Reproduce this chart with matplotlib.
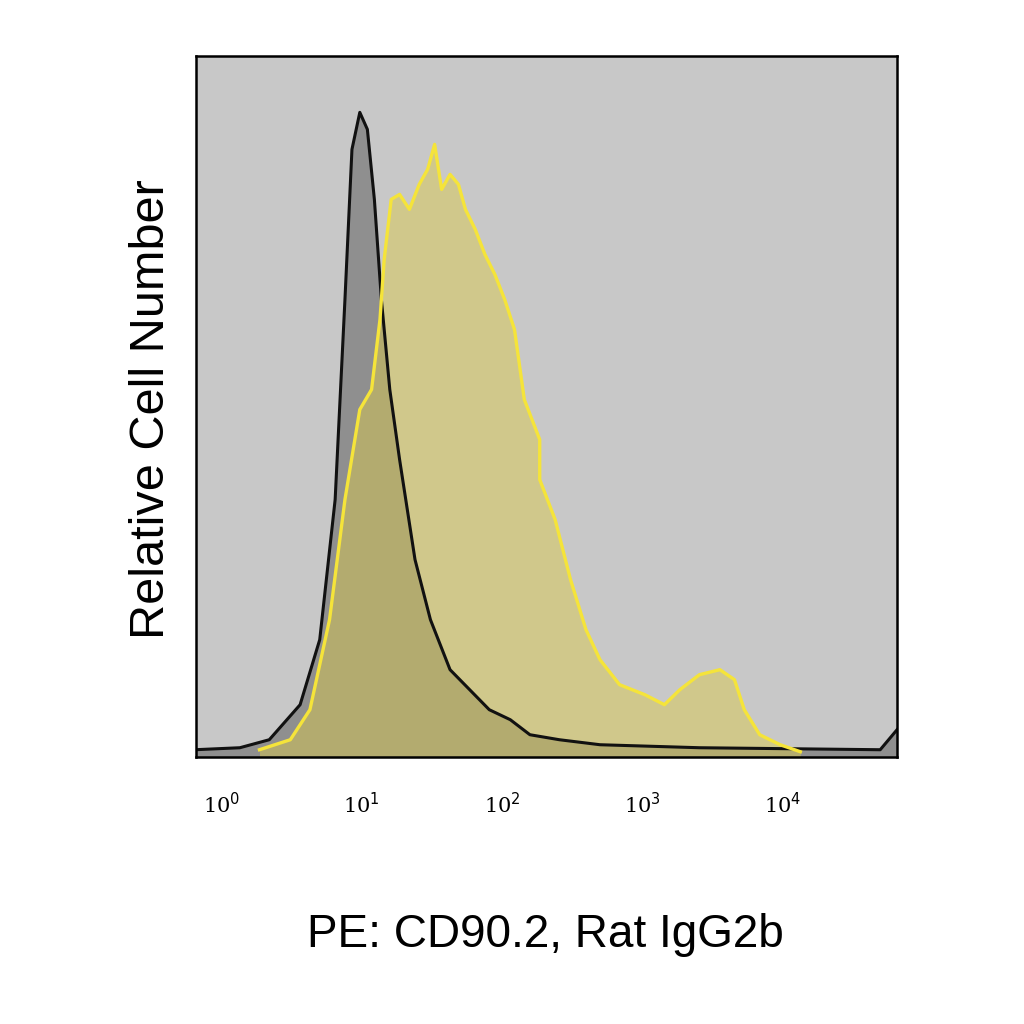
import numpy as np
import matplotlib
matplotlib.use("Agg")
import matplotlib.pyplot as plt

# log10(fluorescence) and relative counts
iso_logx = [-0.19, 0.13, 0.34, 0.56, 0.70, 0.81, 0.88, 0.93, 0.986, 1.04, 1.09, 1.14,
            1.2, 1.27, 1.38, 1.49, 1.63, 1.77, 1.91, 2.06, 2.2, 2.41, 2.7, 3.41, 4.7, 4.82]
iso_y = [7, 9, 17, 52, 117, 257, 457, 607, 644, 627, 557, 457, 367, 297, 197, 137,
         87, 67, 47, 37, 22, 17, 12, 9, 7, 27]

cd90_logx = [0.27, 0.49, 0.63, 0.77, 0.88, 0.986, 1.07, 1.13, 1.16, 1.21, 1.27, 1.34,
             1.41, 1.47, 1.52, 1.57, 1.63, 1.69, 1.74, 1.81, 1.879, 1.95, 2.02, 2.09,
             2.16, 2.27, 2.27, 2.38, 2.49, 2.6, 2.7, 2.84, 3.02, 3.16, 3.27, 3.41,
             3.556, 3.66, 3.73, 3.84, 3.986, 4.13]
cd90_y = [7, 17, 47, 137, 257, 347, 367, 437, 497, 557, 562, 547, 572, 587, 612, 567,
          582, 572, 547, 527, 502, 482, 457, 427, 357, 317, 277, 237, 177, 127, 97, 72,
          62, 52, 67, 82, 87, 77, 47, 22, 12, 5]

fig = plt.figure(figsize=(10.24, 10.24), dpi=100)
ax = fig.add_axes([0.191, 0.261, 0.685, 0.684])
ax.set_facecolor("#c8c8c8")

ix = 10 ** np.array(iso_logx)
cx = 10 ** np.array(cd90_logx)
ax.fill_between(ix, iso_y, 0, color="#6a6a6a", alpha=0.6, lw=0)
ax.fill_between(cx, cd90_y, 0, color="#d8c850", alpha=0.5, lw=0)
ax.plot(ix, iso_y, color="#111111", lw=2.2)
ax.plot(cx, cd90_y, color="#f5e43a", lw=2.4)

ax.set_xscale("log")
ax.set_xlim(10 ** -0.186, 10 ** 4.82)
ax.set_ylim(0, 700)
ax.set_xticks([])
ax.set_yticks([])
ax.minorticks_off()
for s in ax.spines.values():
    s.set_linewidth(1.8)

for k in range(5):
    ax.text(10 ** k, -48, "10$^{%d}$" % k, ha="center", va="center",
            fontsize=15, family="DejaVu Serif")

fig.text(0.148, 0.60, "Relative Cell Number", rotation=90, ha="center", va="center",
         fontsize=35, family="Liberation Sans")
fig.text(0.533, 0.087, "PE: CD90.2, Rat IgG2b", ha="center", va="center",
         fontsize=33, family="Liberation Sans")

fig.savefig("out.png", dpi=100, facecolor="white")
